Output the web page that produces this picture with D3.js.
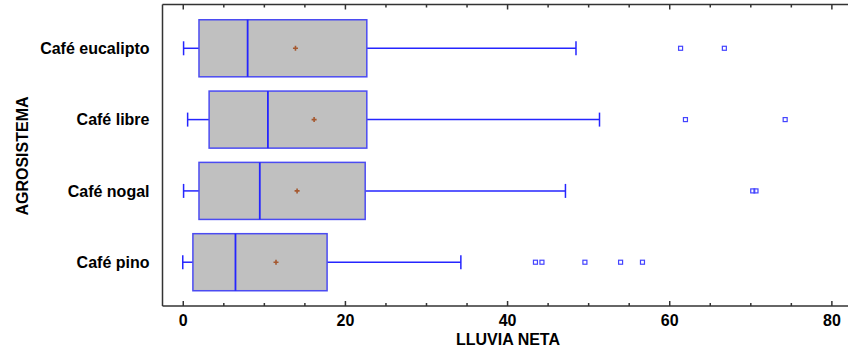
<!DOCTYPE html>
<html><head><meta charset="utf-8">
<script src="https://cdn.jsdelivr.net/npm/d3@7"></script>
<style>
html,body{margin:0;padding:0;background:#fff;}
svg text{font-family:"Liberation Sans",Arial,sans-serif;font-weight:bold;fill:#000;}
</style></head>
<body>
<svg id="chart" width="848" height="353"></svg>
<script>
// Data
const categories = ["Café eucalipto", "Café libre", "Café nogal", "Café pino"];
const whiskerLow  = [0.1, 0.6, 0.1, 0.0];
const q1          = [2.0, 3.25, 2.0, 1.25];
const medians     = [8.0, 10.5, 9.5, 6.5];
const means       = [13.9, 16.2, 14.1, 11.5];
const q3          = [22.7, 22.7, 22.5, 17.8];
const whiskerHigh = [48.5, 51.4, 47.2, 34.3];
const outliers    = [[61.4, 66.8], [62.0, 74.3], [70.3, 70.7], [43.5, 44.3, 49.6, 54.0, 56.7]];
const xTicksMajor = [0, 20, 40, 60, 80];
const xTicksMinor = [5, 10, 15, 25, 30, 35, 45, 50, 55, 65, 70, 75];
const xTitle = "LLUVIA NETA";
const yTitle = "AGROSISTEMA";

const svg = d3.select("#chart");
const pL = 162.5, pR = 848, pT = 4.5, pB = 306;
const x = d3.scaleLinear().domain([-2.5, 82.05]).range([pL, pR]);
const y = d3.scalePoint().domain(categories).range([pT, pB]).padding(0.614);
const boxH = y.step() * 0.8;
const capH = 14;

const frameColor = "#333";
const boxStroke = "#4b4bf2";
const lineBlue = "#2525ff";

// Boxes
const g = svg.append("g");
categories.forEach((c, i) => {
  const cy = y(c);
  g.append("line").attr("x1", x(whiskerLow[i])).attr("x2", x(q1[i])).attr("y1", cy).attr("y2", cy)
    .attr("stroke", lineBlue).attr("stroke-width", 1.5);
  g.append("line").attr("x1", x(q3[i])).attr("x2", x(whiskerHigh[i])).attr("y1", cy).attr("y2", cy)
    .attr("stroke", lineBlue).attr("stroke-width", 1.5);
  [whiskerLow[i], whiskerHigh[i]].forEach(v => {
    g.append("line").attr("x1", x(v)).attr("x2", x(v)).attr("y1", cy - capH/2).attr("y2", cy + capH/2)
      .attr("stroke", lineBlue).attr("stroke-width", 1.5);
  });
  g.append("rect").attr("x", x(q1[i])).attr("y", cy - boxH/2)
    .attr("width", x(q3[i]) - x(q1[i])).attr("height", boxH)
    .attr("fill", "#c0c0c0").attr("stroke", boxStroke).attr("stroke-width", 1.5);
  g.append("line").attr("x1", x(medians[i])).attr("x2", x(medians[i]))
    .attr("y1", cy - boxH/2).attr("y2", cy + boxH/2)
    .attr("stroke", lineBlue).attr("stroke-width", 1.8);
  const mx = x(means[i]);
  g.append("path").attr("d", `M${mx-2.5},${cy}H${mx+2.5}M${mx},${cy-2.5}V${cy+2.5}`)
    .attr("stroke", "#a5582f").attr("stroke-width", 1.6);
  outliers[i].forEach(v => {
    g.append("rect").attr("x", x(v) - 2).attr("y", cy - 2).attr("width", 4).attr("height", 4)
      .attr("fill", "none").attr("stroke", "#4444ff").attr("stroke-width", 1.2);
  });
});

// Frame
svg.append("line").attr("x1", pL).attr("x2", pR).attr("y1", pT).attr("y2", pT)
  .attr("stroke", frameColor).attr("stroke-width", 1.5);
svg.append("line").attr("x1", pL).attr("x2", pR).attr("y1", pB).attr("y2", pB)
  .attr("stroke", frameColor).attr("stroke-width", 1.5);
svg.append("line").attr("x1", pL).attr("x2", pL).attr("y1", pT).attr("y2", pB)
  .attr("stroke", frameColor).attr("stroke-width", 1.5);

// Bottom axis (ticks inward) with labels
const axB = d3.axisBottom(x).tickValues(xTicksMajor).tickSize(-5).tickPadding(9).tickFormat(d3.format("d"));
const gB = svg.append("g").attr("transform", `translate(0,${pB})`).call(axB);
gB.select(".domain").remove();
gB.selectAll(".tick line").attr("stroke", frameColor).attr("stroke-width", 1.5);
gB.selectAll(".tick text").attr("font-size", 16).attr("font-family", "Liberation Sans, Arial, sans-serif")
  .attr("font-weight", "bold").attr("fill", "#000");
const axBm = d3.axisBottom(x).tickValues(xTicksMinor).tickSize(-3).tickFormat("");
const gBm = svg.append("g").attr("transform", `translate(0,${pB})`).call(axBm);
gBm.select(".domain").remove();
gBm.selectAll(".tick line").attr("stroke", frameColor).attr("stroke-width", 1.5);

// Top axis ticks (inward)
const axT = d3.axisTop(x).tickValues(xTicksMajor).tickSize(-5).tickFormat("");
const gT = svg.append("g").attr("transform", `translate(0,${pT})`).call(axT);
gT.select(".domain").remove();
gT.selectAll(".tick line").attr("stroke", frameColor).attr("stroke-width", 1.5);
const axTm = d3.axisTop(x).tickValues(xTicksMinor).tickSize(-3).tickFormat("");
const gTm = svg.append("g").attr("transform", `translate(0,${pT})`).call(axTm);
gTm.select(".domain").remove();
gTm.selectAll(".tick line").attr("stroke", frameColor).attr("stroke-width", 1.5);

// Category labels
const axL = d3.axisLeft(y).tickSize(0).tickPadding(13);
const gL = svg.append("g").attr("transform", `translate(${pL},0)`).call(axL);
gL.select(".domain").remove();
gL.selectAll(".tick text").attr("font-size", 16).attr("font-family", "Liberation Sans, Arial, sans-serif")
  .attr("font-weight", "bold").attr("fill", "#000");

// Titles
svg.append("text").attr("x", 508).attr("y", 345).attr("text-anchor", "middle")
  .attr("font-size", 16).text(xTitle);
svg.append("text").attr("transform", `translate(28,156) rotate(-90)`).attr("text-anchor", "middle")
  .attr("font-size", 16).text(yTitle);
</script>
</body></html>
